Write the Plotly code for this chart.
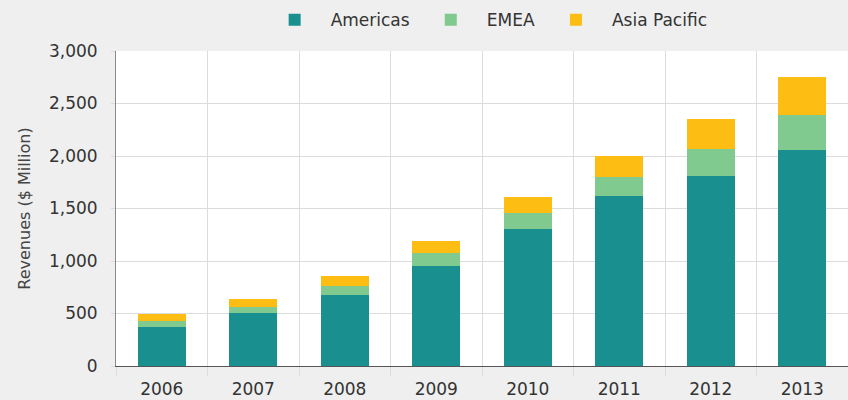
import plotly.graph_objects as go

years = [2006, 2007, 2008, 2009, 2010, 2011, 2012, 2013]
year_labels = ["2006", "2007", "2008", "2009", "2010", "2011", "2012", "2013"]
americas = [370, 508, 676, 952, 1305, 1615, 1805, 2055]
emea = [58, 57, 89, 125, 150, 182, 258, 335]
asia_pacific = [67, 73, 95, 115, 158, 205, 290, 360]
y_ticks = [0, 500, 1000, 1500, 2000, 2500, 3000]

FONT = "DejaVu Sans"
fig = go.Figure()
for name, vals, col in [("Americas", americas, "#1a8f8f"),
                        ("EMEA", emea, "#80c98f"),
                        ("Asia Pacific", asia_pacific, "#fdbd12")]:
    fig.add_trace(go.Bar(x=years, y=vals, name=name, marker_color=col,
                         marker_line_width=0, width=0.52))

fig.update_layout(
    barmode="stack",
    width=848, height=400,
    margin=dict(l=116, r=0, t=51, b=34),
    paper_bgcolor="#eeefee",
    plot_bgcolor="#ffffff",
    font=dict(family=FONT, size=17, color="#333333"),
    legend=dict(orientation="h", x=0.505, xanchor="center", y=1.098, yanchor="middle",
                bgcolor="rgba(0,0,0,0)", font=dict(size=17, color="#333333"),
                itemwidth=62, traceorder="normal"),
    xaxis=dict(range=[2005.5, 2013.5], tickmode="array", tickvals=years, ticktext=year_labels,
               showgrid=False, ticks="", ticklabelstandoff=8,
               showline=True, linecolor="#555555", linewidth=1,
               tickfont=dict(size=17, color="#333333"), fixedrange=True,
               minor=dict(tickmode="linear", tick0=2005.5, dtick=1, showgrid=True,
                          gridcolor="#dcdcdc", gridwidth=1, ticks="outside", ticklen=9,
                          tickcolor="#dcdcdc")),
    yaxis=dict(range=[0, 3000], tickmode="array", tickvals=y_ticks, tickformat=",",
               showgrid=True, gridcolor="#dcdcdc", gridwidth=1, zeroline=False,
               showline=True, linecolor="#8a8a8a", linewidth=1, fixedrange=True,
               ticks="outside", ticklen=4, tickcolor="#dcdcdc", ticklabelstandoff=10,
               tickfont=dict(size=17, color="#333333"),
               title=dict(text="Revenues ($ Million)", font=dict(size=16, color="#444444"), standoff=14)),
)

fig.write_html("out.html", config={"displayModeBar": False},
               post_script="document.body.style.margin='0';document.body.style.background='#eeefee';")
